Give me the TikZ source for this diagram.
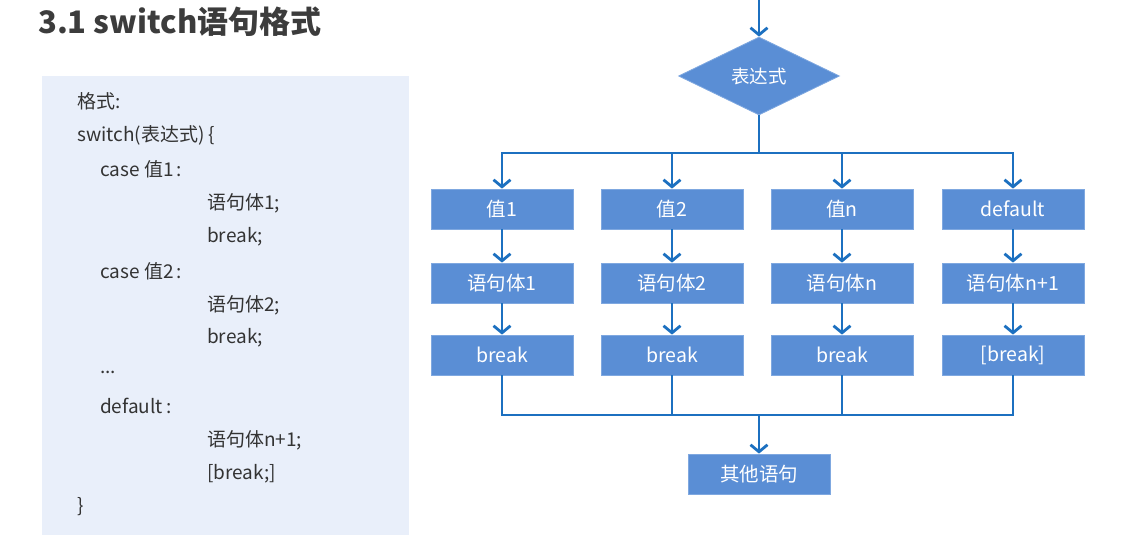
\documentclass[tikz,border=0pt]{standalone}
\usepackage{fontspec}
\setmainfont{Noto Sans CJK SC}
\usetikzlibrary{shapes.geometric,arrows.meta}
\definecolor{boxblue}{HTML}{5A8ED5}
\definecolor{boxedge}{HTML}{7FA8E0}
\definecolor{lineblue}{HTML}{1C70C0}
\definecolor{panel}{HTML}{E9EFFA}
\definecolor{titlegray}{HTML}{3C3C3C}
\definecolor{codegray}{HTML}{333333}
\tikzset{
  fbox/.style={rectangle, fill=boxblue, draw=boxedge, line width=0.8pt, minimum width=142pt, minimum height=40pt, inner sep=0pt, text=white, font=\fontsize{19.5}{21}\selectfont},
  fdia/.style={diamond, fill=boxblue, draw=boxedge, line width=0.8pt, minimum width=161pt, minimum height=78pt, inner sep=0pt, text=white, font=\fontsize{18.5}{20}\selectfont},
  ln/.style={draw=lineblue, line width=2.8pt},
  arr/.style={ln, -{Straight Barb[length=7pt,width=17pt,line width=2.8pt]}},
  code/.style={anchor=west, inner sep=0pt, text=codegray, font=\fontsize{19}{21}\selectfont},
}
\begin{document}
\begin{tikzpicture}[x=1pt,y=-1pt]
\useasboundingbox (0,0) rectangle (1136,538);
% title
\node[anchor=west, inner sep=0pt, text=titlegray, font=\fontsize{31}{34}\selectfont\bfseries] (title) at (38,22) {3.1 switch语句格式};
% code panel
\fill[panel] (42,76) rectangle (409,535);
\node[code] (c1) at (77,101) {格式:};
\node[code] (c2) at (77,135) {switch(表达式) \{};
\node[code] (c3) at (100,169) {case 值1\,:};
\node[code] (c4) at (207,203) {语句体1;};
\node[code] (c5) at (207,237) {break;};
\node[code] (c6) at (100,271) {case 值2\,:};
\node[code] (c7) at (207,305) {语句体2;};
\node[code] (c8) at (207,338) {break;};
\node[code] (c9) at (100,372) {...};
\node[code] (c10) at (100,406) {default\,:};
\node[code] (c11) at (207,440) {语句体n+1;};
\node[code] (c12) at (207,474) {[break;]};
\node[code] (c13) at (77,507) {\}};
% flowchart
\coordinate (start) at (759,0);
\node[fdia] (expr) at (759,76) {表达式};
\node[fbox] (v1) at (502,209) {值1};
\node[fbox] (v2) at (672,209) {值2};
\node[fbox] (v3) at (842,209) {值n};
\node[fbox] (v4) at (1013,209) {default};
\node[fbox] (s1) at (502,283) {语句体1};
\node[fbox] (s2) at (672,283) {语句体2};
\node[fbox] (s3) at (842,283) {语句体n};
\node[fbox] (s4) at (1013,283) {语句体n+1};
\node[fbox] (b1) at (502,355) {break};
\node[fbox] (b2) at (672,355) {break};
\node[fbox] (b3) at (842,355) {break};
\node[fbox] (b4) at (1013,355) {[break]};
\node[fbox] (other) at (759,474) {其他语句};
\coordinate (bus) at (759,153);
\coordinate (merge) at (759,415);
\draw[arr] (start) -- (expr.north);
\draw[ln] (expr.south) -- (bus);
\foreach \i in {1,2,3,4} {
  \draw[arr] (bus) -| (v\i.north);
  \draw[arr] (v\i.south) -- (s\i.north);
  \draw[arr] (s\i.south) -- (b\i.north);
  \draw[ln] (b\i.south) |- (merge);
}
\draw[arr] (merge) -- (other.north);
\end{tikzpicture}
\end{document}
